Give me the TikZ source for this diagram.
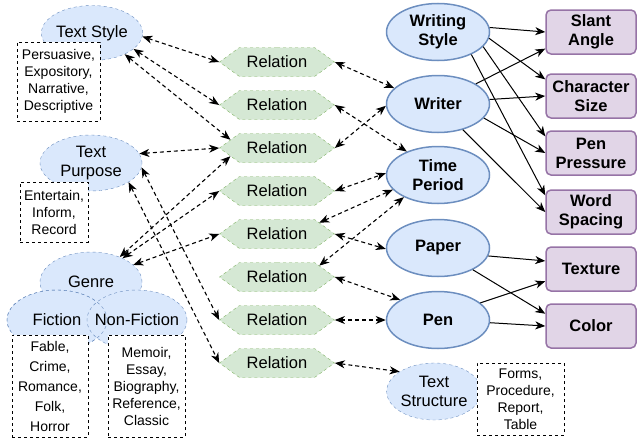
\documentclass[tikz,border=0pt]{standalone}
\usepackage{fontspec}
\setmainfont{Liberation Sans}
\usetikzlibrary{shapes.geometric,shapes.symbols,arrows.meta,positioning}
\definecolor{bluefill}{HTML}{DAE8FC}
\definecolor{blueline}{HTML}{6C8EBF}
\definecolor{greenfill}{HTML}{D5E8D4}
\definecolor{greenline}{HTML}{82B366}
\definecolor{purplefill}{HTML}{E1D5E7}
\definecolor{purpleline}{HTML}{9673A6}

\begin{document}
\begin{tikzpicture}[x=1pt,y=-1pt,>={Stealth[length=10pt,width=8pt,inset=3pt]},
	topic/.style={ellipse, draw=blueline, fill=bluefill, dashed, inner sep=0pt, align=center, font=\fontsize{16.5}{19}\selectfont},
	entity/.style={ellipse, draw=blueline, fill=bluefill, line width=1.5pt, minimum width=103pt, minimum height=57pt, inner sep=0pt, align=center, font=\fontsize{16.5}{19}\selectfont\bfseries},
	relation/.style={signal, signal to=west and east, signal pointer angle=72, draw=greenline, fill=greenfill, dashed, minimum width=115pt, minimum height=29pt, inner sep=0pt, font=\fontsize{16.5}{19}\selectfont},
	feature/.style={rectangle, rounded corners=5pt, draw=purpleline, fill=purplefill, line width=1.5pt, minimum width=90pt, minimum height=44pt, inner sep=1pt, align=center, font=\fontsize{16.5}{19}\selectfont\bfseries},
	list/.style={rectangle, draw, dashed, line width=0.8pt, fill=white, inner sep=0pt, align=center, font=\fontsize{14}{17}\selectfont},
	link/.style={<->, dash pattern=on 4pt off 3pt, line width=1.1pt},
	effect/.style={->, line width=1pt}]
\useasboundingbox (0,0) rectangle (637,439);

% left column
\node[topic, minimum width=100pt, minimum height=55pt] (tstyle) at (92,33) {Text Style};
\node[topic, minimum width=102pt, minimum height=56pt] (tpurpose) at (91,163) {Text\\Purpose};
\node[topic, minimum width=102pt, minimum height=60pt] (genre) at (91,282) {Genre};
\node[topic, minimum width=100pt, minimum height=60pt] (fiction) at (57,320) {Fiction};
\node[topic, minimum width=100pt, minimum height=60pt, inner xsep=-12pt] (nonfiction) at (137,320) {Non-Fiction};
\draw[blueline, dashed] (fiction.center) ellipse [x radius=50pt, y radius=30pt];

\node[list, minimum width=83pt, minimum height=79pt] (stylelist) at (58.5,81.5) {Persuasive,\\Expository,\\Narrative,\\Descriptive};
\node[list, minimum width=68pt, minimum height=60pt] (purposelist) at (54,212) {Entertain,\\Inform,\\Record};
\node[list, minimum width=76pt, minimum height=102pt, font=\fontsize{14}{20}\selectfont] (fictionlist) at (50,386) {Fable,\\Crime,\\Romance,\\Folk,\\Horror};
\node[list, minimum width=77pt, minimum height=102pt] (nonfictionlist) at (146.5,386) {Memoir,\\Essay,\\Biography,\\Reference,\\Classic};

% relations
\node[relation] (r1) at (277,62) {Relation};
\node[relation] (r2) at (277,105) {Relation};
\node[relation] (r3) at (277,148) {Relation};
\node[relation] (r4) at (277,191) {Relation};
\node[relation] (r5) at (277,234) {Relation};
\node[relation] (r6) at (277,277) {Relation};
\node[relation] (r7) at (277,320) {Relation};
\node[relation] (r8) at (277,363) {Relation};

% right column
\node[entity] (wstyle) at (438,32) {Writing\\Style};
\node[entity] (writer) at (438,104) {Writer};
\node[entity] (period) at (438,175) {Time\\Period};
\node[entity] (paper) at (438,248) {Paper};
\node[entity] (pen) at (438,320) {Pen};
\node[topic, minimum width=92pt, minimum height=57pt] (tstruct) at (434,391.5) {Text\\Structure};
\node[list, minimum width=87pt, minimum height=72pt] (structlist) at (520.5,399) {Forms,\\Procedure,\\Report,\\Table};

\node[feature] (slant) at (591,32) {Slant\\Angle};
\node[feature] (charsize) at (591,96) {Character\\Size};
\node[feature] (pressure) at (591,153) {Pen\\Pressure};
\node[feature] (spacing) at (591,212) {Word\\Spacing};
\node[feature] (texture) at (591,269) {Texture};
\node[feature] (colour) at (591,326) {Color};

% dashed links, left
\draw[link] (tstyle.-4) -- (r1.west);
\draw[link] (tstyle.-21) -- (r2.west);
\draw[link] (tstyle.-33) -- (r3.170);
\draw[link] (tpurpose.11) -- (r3.west);
\draw[link] (tpurpose.-5) -- (r7.west);
\draw[link] (tpurpose.-27) -- (r8.west);
\draw[link] (genre.41) -- (r3.190);
\draw[link] (genre.37) -- (r4.west);
\draw[link] (genre.22) -- (r5.west);

% dashed links, right
\draw[link] (r1.east) -- (writer.160);
\draw[link] (r2.east) -- (period.143);
\draw[link] (r3.east) -- (writer.182);
\draw[link] (r4.east) -- (period.178);
\draw[link] (r5.15) -- (period.198);
\draw[link] (r5.east) -- (paper.181);
\draw[link] (r6.15) -- (period.213);
\draw[link] (r6.east) -- (pen.152);
\draw[link] (r7.east) -- (pen.west);
\draw[link] (r8.east) -- (tstruct.150);

% solid arrows
\draw[effect] (wstyle.5) -- (slant.west);
\draw[effect] (wstyle.-7) -- (charsize.160);
\draw[effect] (wstyle.-18) -- (pressure.160);
\draw[effect] (wstyle.-34) -- (spacing.160);
\draw[effect] (writer.28) -- (slant.200);
\draw[effect] (writer.5) -- (charsize.west);
\draw[effect] (writer.-17) -- (pressure.west);
\draw[effect] (writer.-46) -- (spacing.west);
\draw[effect] (paper.-9) -- (texture.170);
\draw[effect] (paper.-32) -- (colour.165);
\draw[effect] (pen.22) -- (texture.195);
\draw[effect] (pen.-3) -- (colour.west);
\end{tikzpicture}
\end{document}
